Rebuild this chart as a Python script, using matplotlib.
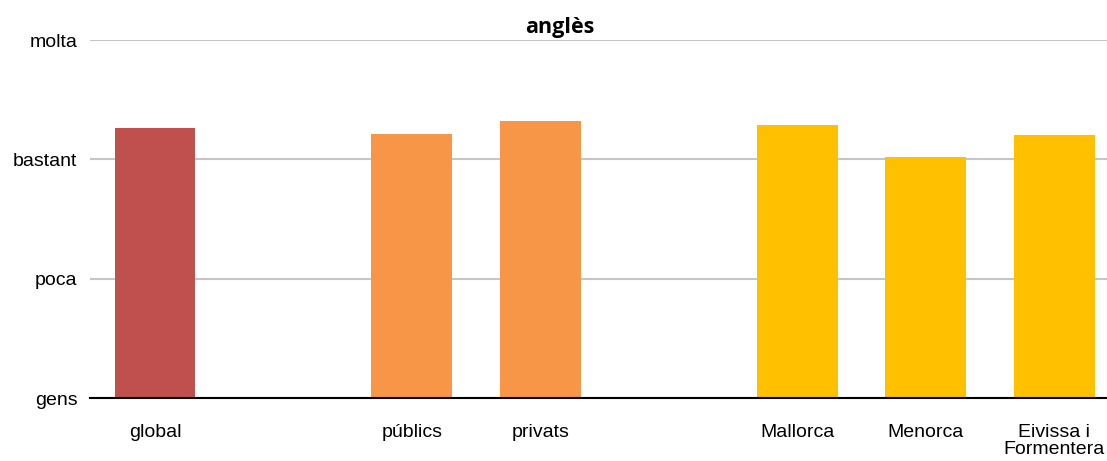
import matplotlib
matplotlib.use("Agg")
import matplotlib.pyplot as plt

categories = ["global", "", "públics", "privats", "", "Mallorca", "Menorca", "Eivissa i\nFormentera"]
values = [2.26, None, 2.21, 2.32, None, 2.29, 2.02, 2.20]
colors = ["#C0504D", None, "#F79646", "#F79646", None, "#FFC000", "#FFC000", "#FFC000"]
level_labels = ["gens", "poca", "bastant", "molta"]
title = "anglès"

plt.rcParams['font.family'] = ['Liberation Sans', 'DejaVu Sans']

fig = plt.figure(figsize=(11.07, 4.61), dpi=100)
ax = fig.add_axes([90/1107, 63/461, 1 - 90/1107, (398-40)/461])

xs = [i for i, v in enumerate(values) if v is not None]
vs = [v for v in values if v is not None]
cs = [c for c, v in zip(colors, values) if v is not None]
ax.bar(xs, vs, width=0.63, color=cs, zorder=3)

ax.set_xlim(-0.506, 7.41)
ax.set_ylim(0, 3)
ax.set_yticks(range(len(level_labels)))
ax.set_yticklabels(level_labels, fontsize=14)
ax.set_xticks(xs)
ax.set_xticklabels([categories[i] for i in xs], fontsize=14, linespacing=0.95)
ax.tick_params(axis='both', length=0)
ax.tick_params(axis='y', pad=9)
ax.tick_params(axis='x', pad=19)
for lab in ax.get_xticklabels():
    lab.set_verticalalignment('top')

ax.grid(axis='y', color='#C6C6C6', linewidth=1.5, zorder=0)
for s in ['top', 'right', 'left']:
    ax.spines[s].set_visible(False)
ax.spines['bottom'].set_color('black')
ax.spines['bottom'].set_linewidth(1.5)
ax.spines['bottom'].set_zorder(4)

fig.text(560/1107, 1 - 27/461, title, ha='center', va='center', fontsize=15.5,
         fontweight='bold', family=['Open Sans', 'DejaVu Sans'])

fig.savefig("out.png", dpi=100)
